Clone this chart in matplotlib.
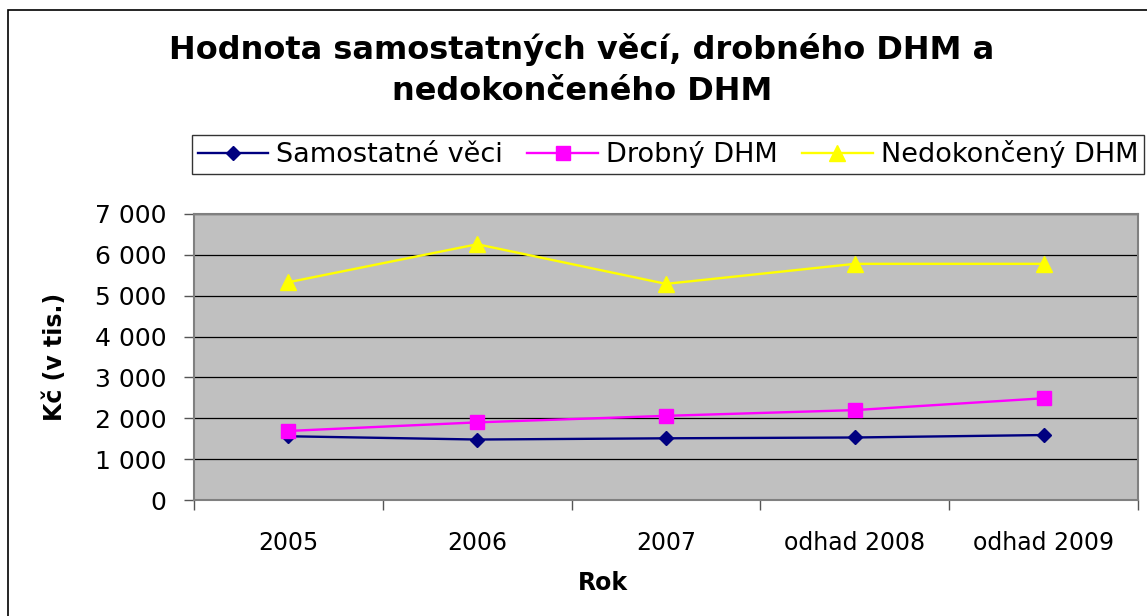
import matplotlib.pyplot as plt
import matplotlib.patches as patches
from matplotlib.ticker import FuncFormatter, FixedLocator
import numpy as np

# data (Kč, thousands)
years = ['2005', '2006', '2007', 'odhad 2008', 'odhad 2009']
samostatne = [1560, 1480, 1510, 1530, 1590]
drobny = [1690, 1900, 2060, 2200, 2490]
nedokonceny = [5330, 6260, 5290, 5780, 5780]

plt.rcParams['font.family'] = ['DejaVu Sans']

fig = plt.figure(figsize=(11.47, 6.16), dpi=100)
W, H = 1147, 616

# outer chart border
fig.patches.append(patches.Rectangle((8 / W, -0.1), 1.2, 1 - 10 / H + 0.1,
                                     transform=fig.transFigure, fill=False,
                                     edgecolor='black', linewidth=1.2))

ax = fig.add_axes([194 / W, 1 - 500 / H, (1138 - 194) / W, (500 - 214) / H])
ax.set_facecolor('#C0C0C0')

x = np.arange(len(years))
ax.plot(x, samostatne, color='#000080', marker='D', markersize=7, linewidth=1.7,
        label='Samostatné věci')
ax.plot(x, drobny, color='#FF00FF', marker='s', markersize=10.5, linewidth=1.7,
        label='Drobný DHM')
ax.plot(x, nedokonceny, color='#FFFF00', marker='^', markersize=12, linewidth=1.7,
        label='Nedokončený DHM')

ax.set_xlim(-0.5, len(years) - 0.5)
ax.set_ylim(0, 7000)
ax.set_yticks(np.arange(0, 7001, 1000))
ax.yaxis.set_major_formatter(FuncFormatter(lambda v, p: f"{v:,.0f}".replace(",", " ")))
ax.yaxis.grid(True, color='black', linewidth=0.9)
ax.set_axisbelow(True)

ax.set_xticks(x)
ax.set_xticklabels(years)
ax.xaxis.set_minor_locator(FixedLocator(np.arange(-0.5, len(years), 1)))
ax.tick_params(axis='x', which='major', length=0, labelsize=17, pad=22)
ax.tick_params(axis='x', which='minor', length=7, width=1, color='#555555', direction='out')
ax.tick_params(axis='y', length=7, width=1, color='#555555', labelsize=18, pad=13)

for s in ax.spines.values():
    s.set_color('#808080')
    s.set_linewidth(1.5)

fig.text(55 / W, 1 - 357 / H, 'Kč (v tis.)', rotation=90, ha='center', va='center',
         fontsize=17, fontweight='bold')
fig.text(603 / W, 1 - 583 / H, 'Rok', ha='center', va='center',
         fontsize=17, fontweight='bold')

fig.text(582 / W, 1 - 50 / H, 'Hodnota samostatných věcí, drobného DHM a',
         ha='center', va='center', fontsize=23, fontweight='bold')
fig.text(582 / W, 1 - 92 / H, 'nedokončeného DHM',
         ha='center', va='center', fontsize=23, fontweight='bold')

handles, labels = ax.get_legend_handles_labels()
leg = fig.legend(handles, labels, loc='center', ncol=3,
                 bbox_to_anchor=(668 / W, 1 - 154.5 / H), fontsize=19.5,
                 frameon=True, fancybox=False, edgecolor='black',
                 handlelength=2.6, handletextpad=0.3, columnspacing=0.9,
                 borderpad=0.2, borderaxespad=0)
leg.get_frame().set_linewidth(1.0)

fig.savefig('out.png', dpi=100)
